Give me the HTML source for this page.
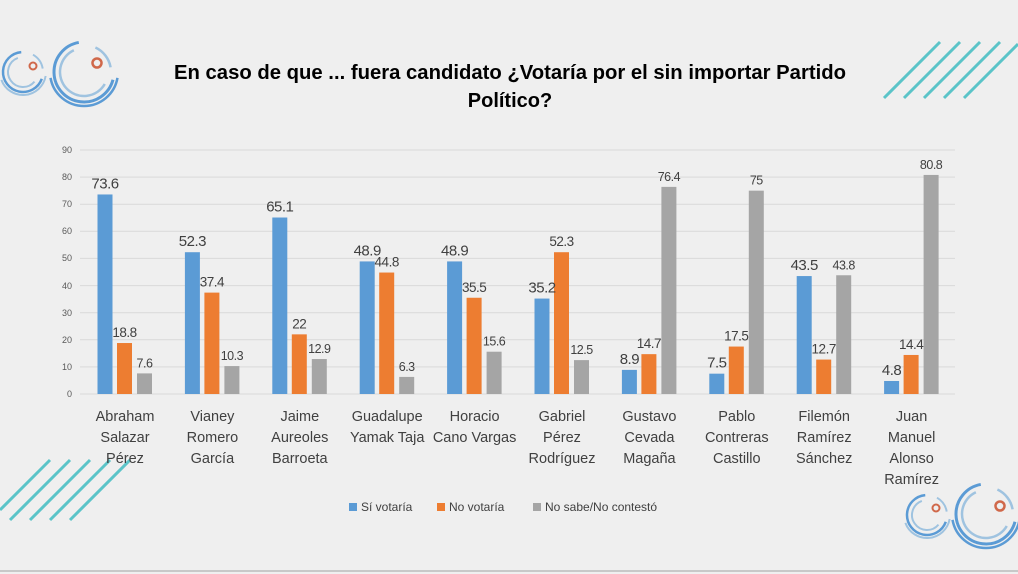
<!DOCTYPE html>
<html><head><meta charset="utf-8"><style>
body{margin:0;background:#efefef;}
svg{display:block;font-family:"Liberation Sans",sans-serif;}
</style></head><body>
<svg width="1018" height="574" viewBox="0 0 1018 574" xmlns="http://www.w3.org/2000/svg">
<rect width="1018" height="574" fill="#efefef"/>
<line x1="0" y1="571" x2="1018" y2="571" stroke="#c8c8c8" stroke-width="2"/>
<g id="logos"></g>
<g stroke="#5bc4c8" stroke-width="3">
<line x1="884" y1="98" x2="940" y2="42"/><line x1="904" y1="98" x2="960" y2="42"/><line x1="924" y1="98" x2="980" y2="42"/><line x1="944" y1="98" x2="1000" y2="42"/><line x1="964" y1="98" x2="1018" y2="44"/>
<line x1="0" y1="510" x2="50" y2="460"/><line x1="10" y1="520" x2="70" y2="460"/><line x1="30" y1="520" x2="90" y2="460"/><line x1="50" y1="520" x2="110" y2="460"/><line x1="70" y1="520" x2="130" y2="460"/>
</g>
<text x="510" y="79" text-anchor="middle" font-size="20" font-weight="bold" fill="#000" textLength="672" lengthAdjust="spacingAndGlyphs">En caso de que ... fuera candidato ¿Votaría por el sin importar Partido</text>
<text x="510" y="107" text-anchor="middle" font-size="20" font-weight="bold" fill="#000">Político?</text>
<g stroke="#d9d9d9" stroke-width="1">
<line x1="80" y1="150" x2="955" y2="150"/><line x1="80" y1="177.1" x2="955" y2="177.1"/><line x1="80" y1="204.2" x2="955" y2="204.2"/><line x1="80" y1="231.3" x2="955" y2="231.3"/><line x1="80" y1="258.4" x2="955" y2="258.4"/><line x1="80" y1="285.6" x2="955" y2="285.6"/><line x1="80" y1="312.7" x2="955" y2="312.7"/><line x1="80" y1="339.8" x2="955" y2="339.8"/><line x1="80" y1="366.9" x2="955" y2="366.9"/><line x1="80" y1="394" x2="955" y2="394"/>
</g>
<g font-size="9" fill="#595959" text-anchor="end">
<text x="72" y="153">90</text><text x="72" y="180">80</text><text x="72" y="207">70</text><text x="72" y="234">60</text><text x="72" y="261">50</text><text x="72" y="289">40</text><text x="72" y="316">30</text><text x="72" y="343">20</text><text x="72" y="370">10</text><text x="72" y="397">0</text>
</g>
<g id="bars"></g>
<rect x="349" y="503" width="8" height="8" fill="#5b9bd5"/><text x="361" y="511" font-size="12" fill="#404040">Sí votaría</text>
<rect x="437" y="503" width="8" height="8" fill="#ed7d31"/><text x="449" y="511" font-size="12" fill="#404040">No votaría</text>
<rect x="533" y="503" width="8" height="8" fill="#a5a5a5"/><text x="545" y="511" font-size="12" fill="#404040">No sabe/No contestó</text>
</svg>
<script>
function arcCCW(cx,cy,r,a1,a2,col,w){const p=a=>[cx+r*Math.cos(a*Math.PI/180),cy-r*Math.sin(a*Math.PI/180)];const [x1,y1]=p(a1),[x2,y2]=p(a2);const span=((a2-a1)%360+360)%360;return `<path d="M${x1} ${y1} A${r} ${r} 0 ${span>180?1:0} 0 ${x2} ${y2}" fill="none" stroke="${col}" stroke-width="${w}"/>`;}
function logo(sx,sy,lx,ly,d1,d2){let s="";
s+=arcCCW(sx,sy,20,95,340,"#5b9bd5",2.5);
s+=arcCCW(sx,sy,15,110,320,"#9fc3e0",2);
s+=arcCCW(sx,sy,23,200,350,"#9fc3e0",2);
s+=arcCCW(sx,sy,20,10,60,"#9fc3e0",2);
s+=arcCCW(lx,ly,30,100,345,"#5b9bd5",3);
s+=arcCCW(lx,ly,24,115,330,"#9fc3e0",2.5);
s+=arcCCW(lx,ly,34,190,350,"#5b9bd5",2.5);
s+=arcCCW(lx,ly,27,10,65,"#9fc3e0",2.5);
s+=`<circle cx="${d1[0]}" cy="${d1[1]}" r="3.5" fill="none" stroke="#d0684a" stroke-width="2"/>`;
s+=`<circle cx="${d2[0]}" cy="${d2[1]}" r="4.5" fill="none" stroke="#d0684a" stroke-width="2.5"/>`;return s;}
document.getElementById("logos").innerHTML=logo(23,72,84,72,[33,66],[97,63])+logo(927,515,986,514,[936,508],[1000,506]);
const d=[["Abraham|Salazar|Pérez",73.6,18.8,7.6],["Vianey|Romero|García",52.3,37.4,10.3],["Jaime|Aureoles|Barroeta",65.1,22,12.9],["Guadalupe|Yamak Taja",48.9,44.8,6.3],["Horacio|Cano Vargas",48.9,35.5,15.6],["Gabriel|Pérez|Rodríguez",35.2,52.3,12.5],["Gustavo|Cevada|Magaña",8.9,14.7,76.4],["Pablo|Contreras|Castillo",7.5,17.5,75],["Filemón|Ramírez|Sánchez",43.5,12.7,43.8],["Juan|Manuel|Alonso|Ramírez",4.8,14.4,80.8]];
const cols=["#5b9bd5","#ed7d31","#a5a5a5"],k=244/90;let s="";
d.forEach((g,i)=>{const c=125+87.4*i;
[-27.5,-8,12].forEach((o,j)=>{const v=g[j+1],h=v*k,x=c+o;
s+=`<rect x="${x}" y="${394-h}" width="15" height="${h}" fill="${cols[j]}"/>`;});
[-27.5,-8,12].forEach((o,j)=>{const v=g[j+1],h=v*k,x=c+o;
s+=`<text x="${x+7.5}" y="${394-h-6}" text-anchor="middle" font-size="${j==0?15:(j==1?13.5:12.5)}" fill="#404040" style="letter-spacing:-0.5px">${v}</text>`;});
g[0].split("|").forEach((t,l)=>{s+=`<text x="${c}" y="${421+l*21}" text-anchor="middle" font-size="14.5" fill="#404040">${t}</text>`;});});
document.getElementById("bars").innerHTML=s;
</script>
</body></html>
